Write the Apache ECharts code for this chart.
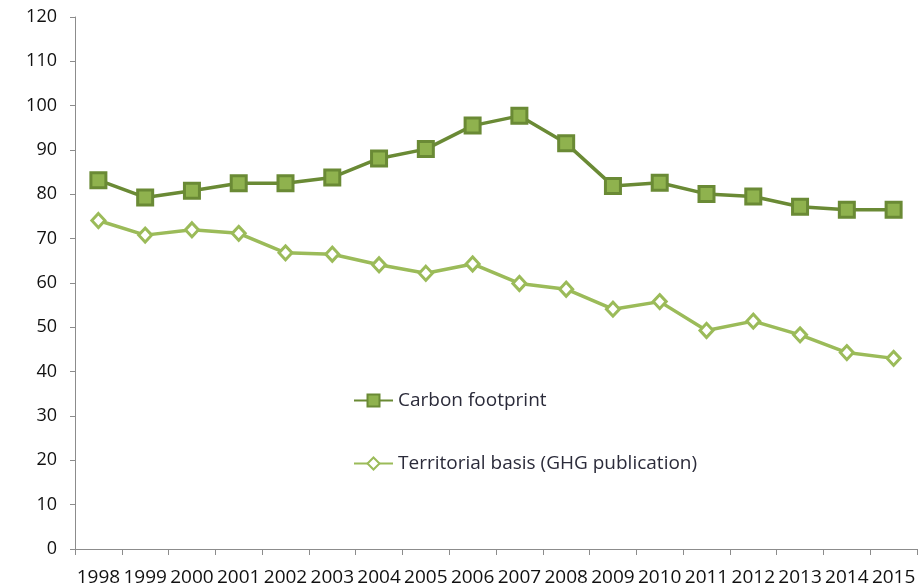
<!DOCTYPE html>
<html><head><meta charset="utf-8">
<script src="https://cdn.jsdelivr.net/npm/echarts@6/dist/echarts.min.js"></script>
<style>html,body{margin:0;padding:0;background:#fff}#c{width:922px;height:584px}</style>
</head><body><div id="c"></div>
<script>
const years = ['1998','1999','2000','2001','2002','2003','2004','2005','2006','2007','2008','2009','2010','2011','2012','2013','2014','2015'];
const carbonFootprint = [83.2,79.3,80.8,82.5,82.5,83.8,88.1,90.2,95.5,97.7,91.5,81.9,82.6,80.1,79.5,77.2,76.5,76.5];
const territorial = [74.1,70.8,72.0,71.2,66.8,66.5,64.1,62.2,64.3,59.9,58.6,54.1,55.8,49.3,51.4,48.3,44.3,43.0];
const seriesNames = ['Carbon footprint','Territorial basis (GHG publication)'];
const font = '"Open Sans",sans-serif';
const chart = echarts.init(document.getElementById('c'));
chart.setOption({
  animation:false,
  grid:{left:75,right:5,top:17,bottom:35,containLabel:false,outerBoundsMode:'none'},
  legend:{
    orient:'vertical',left:348,top:386,itemGap:44,itemWidth:39,itemHeight:15,
    textStyle:{fontFamily:font,fontSize:19,color:'#2b2b3a'},
    data:seriesNames
  },
  xAxis:{
    type:'category',data:years,boundaryGap:true,
    axisLine:{lineStyle:{color:'#8c8c8c',width:1}},
    axisTick:{show:true,alignWithLabel:false,length:6,lineStyle:{color:'#8c8c8c'}},
    axisLabel:{interval:0,color:'#111',fontFamily:font,fontSize:19,margin:19}
  },
  yAxis:{
    type:'value',min:0,max:120,interval:10,
    axisLine:{show:true,lineStyle:{color:'#8c8c8c'}},
    axisTick:{show:true,length:5,lineStyle:{color:'#8c8c8c'}},
    splitLine:{show:false},
    axisLabel:{color:'#111',fontFamily:font,fontSize:18,margin:18}
  },
  series:[
    {name:seriesNames[0],type:'line',data:carbonFootprint,symbol:'rect',symbolSize:15,
     lineStyle:{color:'#6a8a35',width:3.5},
     itemStyle:{color:'#8fb24e',borderColor:'#6a8a35',borderWidth:3}},
    {name:seriesNames[1],type:'line',data:territorial,symbol:'diamond',symbolSize:[13,14],
     lineStyle:{color:'#9bbb59',width:3.5},
     itemStyle:{color:'#ffffff',borderColor:'#9bbb59',borderWidth:3}}
  ]
});
</script></body></html>
